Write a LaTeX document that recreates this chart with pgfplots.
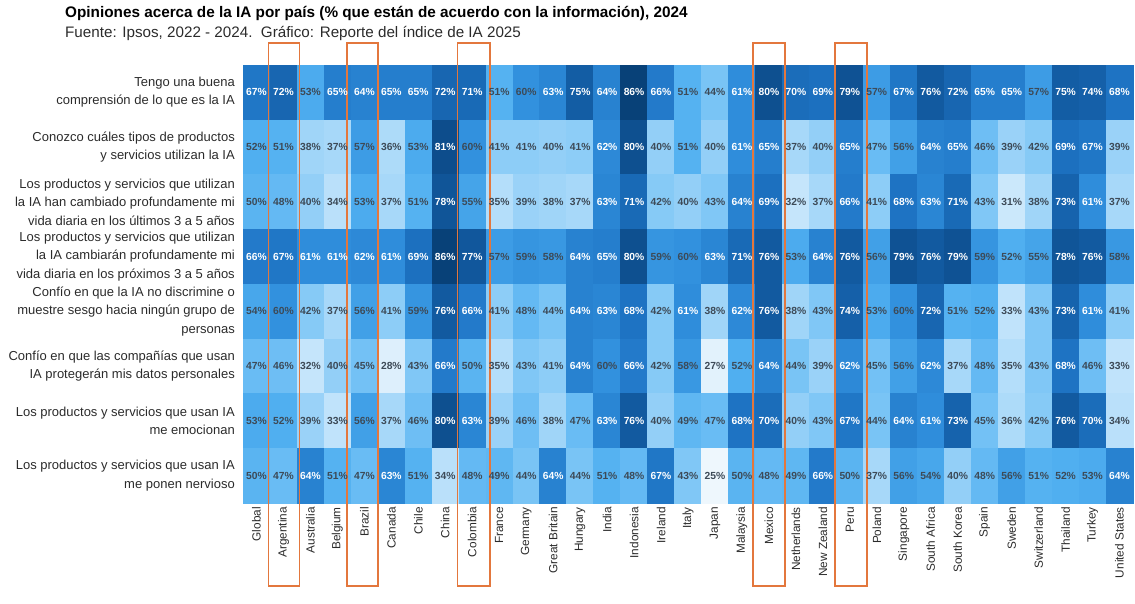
\documentclass[border=0pt]{standalone}
\usepackage{pgfplots}
\pgfplotsset{compat=1.18}
\usepackage{pgfplotstable}
\usepackage{fontspec}
\setmainfont{Liberation Sans}
\definecolor{boxorange}{HTML}{E3773D}
\definecolor{darktxt}{HTML}{3D4A57}
\definecolor{labtxt}{HTML}{2B2B2B}

\pgfplotstableread[row sep=\\]{
x y v\\
0 0 67\\1 0 72\\2 0 53\\3 0 65\\4 0 64\\5 0 65\\6 0 65\\7 0 72\\8 0 71\\9 0 51\\10 0 60\\11 0 63\\12 0 75\\13 0 64\\14 0 86\\15 0 66\\16 0 51\\17 0 44\\18 0 61\\19 0 80\\20 0 70\\21 0 69\\22 0 79\\23 0 57\\24 0 67\\25 0 76\\26 0 72\\27 0 65\\28 0 65\\29 0 57\\30 0 75\\31 0 74\\32 0 68\\
0 1 52\\1 1 51\\2 1 38\\3 1 37\\4 1 57\\5 1 36\\6 1 53\\7 1 81\\8 1 60\\9 1 41\\10 1 41\\11 1 40\\12 1 41\\13 1 62\\14 1 80\\15 1 40\\16 1 51\\17 1 40\\18 1 61\\19 1 65\\20 1 37\\21 1 40\\22 1 65\\23 1 47\\24 1 56\\25 1 64\\26 1 65\\27 1 46\\28 1 39\\29 1 42\\30 1 69\\31 1 67\\32 1 39\\
0 2 50\\1 2 48\\2 2 40\\3 2 34\\4 2 53\\5 2 37\\6 2 51\\7 2 78\\8 2 55\\9 2 35\\10 2 39\\11 2 38\\12 2 37\\13 2 63\\14 2 71\\15 2 42\\16 2 40\\17 2 43\\18 2 64\\19 2 69\\20 2 32\\21 2 37\\22 2 66\\23 2 41\\24 2 68\\25 2 63\\26 2 71\\27 2 43\\28 2 31\\29 2 38\\30 2 73\\31 2 61\\32 2 37\\
0 3 66\\1 3 67\\2 3 61\\3 3 61\\4 3 62\\5 3 61\\6 3 69\\7 3 86\\8 3 77\\9 3 57\\10 3 59\\11 3 58\\12 3 64\\13 3 65\\14 3 80\\15 3 59\\16 3 60\\17 3 63\\18 3 71\\19 3 76\\20 3 53\\21 3 64\\22 3 76\\23 3 56\\24 3 79\\25 3 76\\26 3 79\\27 3 59\\28 3 52\\29 3 55\\30 3 78\\31 3 76\\32 3 58\\
0 4 54\\1 4 60\\2 4 42\\3 4 37\\4 4 56\\5 4 41\\6 4 59\\7 4 76\\8 4 66\\9 4 41\\10 4 48\\11 4 44\\12 4 64\\13 4 63\\14 4 68\\15 4 42\\16 4 61\\17 4 38\\18 4 62\\19 4 76\\20 4 38\\21 4 43\\22 4 74\\23 4 53\\24 4 60\\25 4 72\\26 4 51\\27 4 52\\28 4 33\\29 4 43\\30 4 73\\31 4 61\\32 4 41\\
0 5 47\\1 5 46\\2 5 32\\3 5 40\\4 5 45\\5 5 28\\6 5 43\\7 5 66\\8 5 50\\9 5 35\\10 5 43\\11 5 41\\12 5 64\\13 5 60\\14 5 66\\15 5 42\\16 5 58\\17 5 27\\18 5 52\\19 5 64\\20 5 44\\21 5 39\\22 5 62\\23 5 45\\24 5 56\\25 5 62\\26 5 37\\27 5 48\\28 5 35\\29 5 43\\30 5 68\\31 5 46\\32 5 33\\
0 6 53\\1 6 52\\2 6 39\\3 6 33\\4 6 56\\5 6 37\\6 6 46\\7 6 80\\8 6 63\\9 6 39\\10 6 46\\11 6 38\\12 6 47\\13 6 63\\14 6 76\\15 6 40\\16 6 49\\17 6 47\\18 6 68\\19 6 70\\20 6 40\\21 6 43\\22 6 67\\23 6 44\\24 6 64\\25 6 61\\26 6 73\\27 6 45\\28 6 36\\29 6 42\\30 6 76\\31 6 70\\32 6 34\\
0 7 50\\1 7 47\\2 7 64\\3 7 51\\4 7 47\\5 7 63\\6 7 51\\7 7 34\\8 7 48\\9 7 49\\10 7 44\\11 7 64\\12 7 44\\13 7 51\\14 7 48\\15 7 67\\16 7 43\\17 7 25\\18 7 50\\19 7 48\\20 7 49\\21 7 66\\22 7 50\\23 7 37\\24 7 56\\25 7 54\\26 7 40\\27 7 48\\28 7 56\\29 7 51\\30 7 52\\31 7 53\\32 7 64\\
}\heat

\begin{document}
\begin{tikzpicture}
\useasboundingbox (0,0) rectangle (1135pt,603pt);
\node[anchor=west, inner sep=0pt, font=\fontsize{15.3}{18}\selectfont\bfseries] at (65pt,590pt) {Opiniones acerca de la IA por país (\% que están de acuerdo con la información), 2024};
\node[anchor=west, inner sep=0pt, font=\fontsize{15.2}{18}\selectfont, text=labtxt] at (65pt,570pt) {Fuente: Ipsos, 2022 - 2024.\ \ Gráfico: Reporte del índice de IA 2025};
\begin{axis}[
  at={(243pt,100pt)}, anchor=south west,
  scale only axis, width=890pt, height=438pt,
  xmin=-0.5, xmax=32.5, ymin=-0.5, ymax=7.5,
  enlargelimits=false, y dir=reverse, clip=false,
  axis line style={draw=none}, major tick length=0pt,
  colormap={heat}{rgb255(0pt)=(238,247,253); rgb255(10pt)=(180,222,250); rgb255(20pt)=(115,193,245); rgb255(27pt)=(80,175,240); rgb255(35pt)=(50,145,222); rgb255(43pt)=(30,115,195); rgb255(51pt)=(18,90,160); rgb255(61pt)=(8,65,120)},
  xtick={0,...,32},
  xticklabels={Global,Argentina,Australia,Belgium,Brazil,Canada,Chile,China,Colombia,France,Germany,Great Britain,Hungary,India,Indonesia,Ireland,Italy,Japan,Malaysia,Mexico,Netherlands,New Zealand,Peru,Poland,Singapore,South Africa,South Korea,Spain,Sweden,Switzerland,Thailand,Turkey,United States},
  xticklabel style={rotate=90, anchor=east, font=\fontsize{11.8}{14}\selectfont, text=labtxt, inner sep=4pt},
  ytick={0,...,7},
  yticklabels={
    {Tengo una buena\\comprensión de lo que es la IA},
    {Conozco cuáles tipos de productos\\y servicios utilizan la IA},
    {Los productos y servicios que utilizan\\la IA han cambiado profundamente mi\\vida diaria en los últimos 3 a 5 años},
    {Los productos y servicios que utilizan\\la IA cambiarán profundamente mi\\vida diaria en los próximos 3 a 5 años},
    {Confío en que la IA no discrimine o\\muestre sesgo hacia ningún grupo de\\personas},
    {Confío en que las compañías que usan\\IA protegerán mis datos personales},
    {Los productos y servicios que usan IA\\me emocionan},
    {Los productos y servicios que usan IA\\me ponen nervioso}},
  yticklabel style={align=right, font=\fontsize{13}{18.5}\selectfont, text=labtxt, inner sep=0pt, xshift=-8pt},
]
\addplot[matrix plot*, mesh/cols=33, mesh/rows=8, point meta=explicit, point meta min=25, point meta max=86] table[x=x, y=y, meta=v] {\heat};
\addplot[draw=none, mark=none,
  point meta=explicit symbolic,
  nodes near coords={\ifdim\pgfplotspointmeta pt<60.5pt\color{darktxt}\else\color{white}\fi\pgfplotspointmeta\%},
  nodes near coords align=center,
  every node near coord/.append style={font=\fontsize{10.3}{12}\selectfont\bfseries, inner sep=0pt}]
  table[x=x, y=y, meta=v] {\heat};
\draw[boxorange, line width=1.6pt] (axis cs:0.45,-0.9) rectangle (axis cs:1.6,9.02);
\draw[boxorange, line width=1.6pt] (axis cs:3.35,-0.9) rectangle (axis cs:4.5,9.02);
\draw[boxorange, line width=1.6pt] (axis cs:7.46,-0.9) rectangle (axis cs:8.65,9.02);
\draw[boxorange, line width=1.6pt] (axis cs:18.4,-0.9) rectangle (axis cs:19.6,9.02);
\draw[boxorange, line width=1.6pt] (axis cs:21.45,-0.9) rectangle (axis cs:22.64,9.02);
\end{axis}
\end{tikzpicture}
\end{document}
